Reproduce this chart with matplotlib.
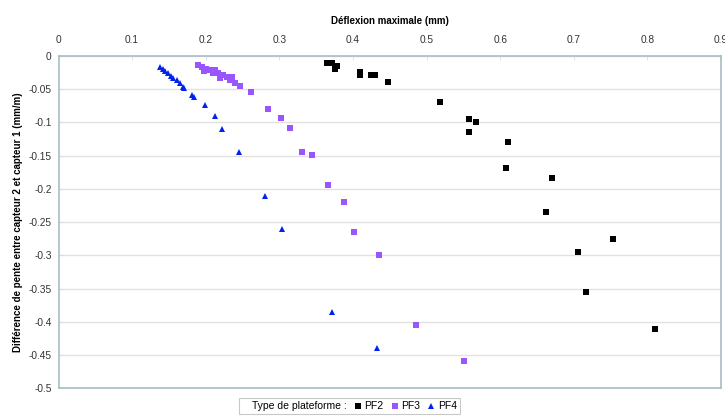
import matplotlib
matplotlib.use("Agg")
import matplotlib.pyplot as plt
from matplotlib.lines import Line2D
from matplotlib.ticker import FixedLocator

plt.rcParams["font.family"] = ["Liberation Sans", "DejaVu Sans"]

# deflexion max (mm) vs difference de pente (mm/m)
pf2_x = [0.365, 0.37, 0.372, 0.375, 0.378, 0.41, 0.41, 0.424, 0.430, 0.447,
         0.518, 0.557, 0.557, 0.567, 0.611, 0.608, 0.671, 0.662, 0.753, 0.706,
         0.717, 0.811]
pf2_y = [-0.010, -0.010, -0.010, -0.020, -0.015, -0.024, -0.029, -0.029, -0.029, -0.039,
         -0.069, -0.095, -0.115, -0.100, -0.129, -0.169, -0.184, -0.234, -0.275, -0.295,
         -0.355, -0.410]

pf3_x = [0.190, 0.195, 0.198, 0.201, 0.206, 0.210, 0.213, 0.217, 0.220, 0.224,
         0.229, 0.233, 0.236, 0.240, 0.246, 0.261, 0.284, 0.302, 0.315, 0.331,
         0.344, 0.366, 0.388, 0.401, 0.435, 0.485, 0.551]
pf3_y = [-0.014, -0.016, -0.022, -0.019, -0.021, -0.025, -0.021, -0.026, -0.033, -0.029,
         -0.031, -0.036, -0.032, -0.041, -0.045, -0.054, -0.079, -0.094, -0.109, -0.145,
         -0.149, -0.194, -0.219, -0.265, -0.300, -0.404, -0.459]

pf4_x = [0.138, 0.142, 0.145, 0.149, 0.153, 0.156, 0.161, 0.165, 0.169, 0.171,
         0.181, 0.184, 0.199, 0.212, 0.222, 0.245, 0.280, 0.303, 0.372, 0.433]
pf4_y = [-0.016, -0.020, -0.023, -0.026, -0.030, -0.033, -0.036, -0.041, -0.046, -0.048,
         -0.058, -0.061, -0.074, -0.090, -0.110, -0.145, -0.210, -0.261, -0.385, -0.440]

x_ticks = [0, 0.1, 0.2, 0.3, 0.4, 0.5, 0.6, 0.7, 0.8, 0.9]
y_ticks = [0, -0.05, -0.1, -0.15, -0.2, -0.25, -0.3, -0.35, -0.4, -0.45, -0.5]
spine_col = "#a8bec3"

fig = plt.figure(figsize=(7.25, 4.18), dpi=100)
ax = fig.add_axes([0.0807, 0.071, 0.9138, 0.795])

ax.plot(pf2_x, pf2_y, "s", color="black", ms=4.3, mew=0, label="PF2")
ax.plot(pf3_x, pf3_y, "s", color="#9955ff", ms=4.3, mew=0, label="PF3")
ax.plot(pf4_x, pf4_y, "^", color="#0022ee", ms=4.9, mew=0, label="PF4")

ax.set_xlim(0, 0.9)
ax.set_ylim(-0.5, 0)
ax.xaxis.set_major_locator(FixedLocator(x_ticks))
ax.yaxis.set_major_locator(FixedLocator(y_ticks))
ax.set_xticklabels([f"{v:g}" for v in x_ticks])
ax.set_yticklabels([f"{v:g}" for v in y_ticks])
ax.xaxis.tick_top()
ax.xaxis.set_label_position("top")
ax.tick_params(axis="both", labelsize=7.3, colors="#333333", length=3,
               direction="in", width=0.6)
ax.tick_params(axis="x", pad=8, color="#d8dde0")
ax.tick_params(axis="y", pad=5, color="#d8dde0")
ax.set_xlabel("Déflexion maximale (mm)", fontsize=7, fontweight="bold", labelpad=8)
ax.set_ylabel("Différence de pente entre capteur 2 et capteur 1 (mm/m)",
              fontsize=7, fontweight="bold", labelpad=4)

ax.grid(axis="y", color="#e2e2e2", lw=1)
ax.set_axisbelow(True)
for s in ax.spines.values():
    s.set_color(spine_col)
    s.set_linewidth(1.2)

# legend with a leading text entry
blank = Line2D([], [], linestyle="none")
handles, labels = ax.get_legend_handles_labels()
leg = fig.legend([blank] + handles, ["Type de plateforme :"] + labels,
                 loc="lower center", bbox_to_anchor=(0.482, -0.004), ncol=4,
                 fontsize=7.5, frameon=True, fancybox=False, handlelength=0.7,
                 handletextpad=0.3, columnspacing=0.7, borderpad=0.3,
                 markerscale=1.0)
leg.get_frame().set_edgecolor("#bbbbbb")
leg.get_frame().set_linewidth(0.8)

fig.savefig("out.png", dpi=100)
